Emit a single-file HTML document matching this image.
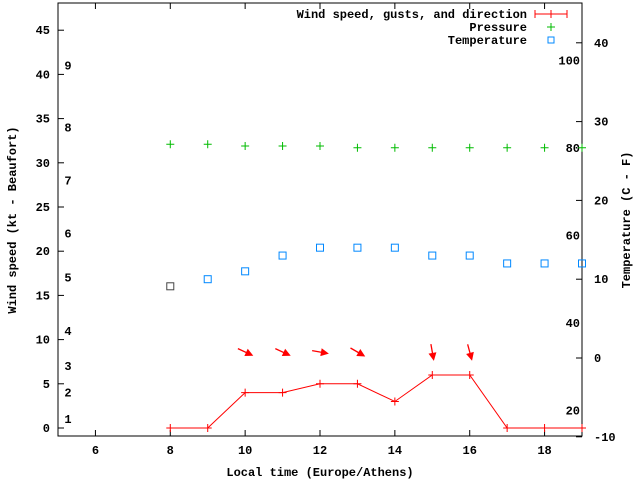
<!DOCTYPE html>
<html><head><meta charset="utf-8"><style>
body{margin:0;background:#fff}
svg{display:block}
text{font-family:"Liberation Mono","DejaVu Sans Mono",monospace;font-size:12px;fill:#000;font-weight:bold}
</style></head><body>
<svg id="c" width="640" height="480" viewBox="0 0 640 480" xmlns="http://www.w3.org/2000/svg"></svg>
<script>
const hours=[8,9,10,11,12,13,14,15,16,17,18,19];
const windKt=[0,0,4,4,5,5,3,6,6,0,0,0];
const pressure=[32.1,32.1,31.9,31.9,31.9,31.7,31.7,31.7,31.7,31.7,31.7,31.7];
const tempC=[9.1,10,11,13,14,14,14,13,13,12,12,12];
const arrowHours=[10,11,12,13,15,16];
const arrowDir=[295,295,280,300,350,345];
const xTicks=[6,8,10,12,14,16,18];
const yTicks=[0,5,10,15,20,25,30,35,40,45];
const y2Ticks=[-10,0,10,20,30,40];
const bfLabels=[1,2,3,4,5,6,7,8,9];
const bfPos=[1.0,4,7,11,17,22,28,34,41];
const fLabels=[20,40,60,80,100];
const L=58,R=582,T=3,B=436;
const X=v=>L+(v-5)/(19-5)*(R-L);
const Y=v=>428-v*8.84;
const Y2=v=>358-v*7.88;
const svg=document.getElementById('c');
const NS='http://www.w3.org/2000/svg';
function mk(t,a,p){const e=document.createElementNS(NS,t);for(const k in a)e.setAttribute(k,a[k]);(p||svg).appendChild(e);return e;}
function tx(s,x,y,anc,name){const e=mk('text',{x:x,y:y,'text-anchor':anc||'middle'});e.textContent=s;return e;}
const frame=mk('rect',{x:L,y:T,width:R-L,height:B-T,fill:'none',stroke:'#000'});


xTicks.forEach(v=>{const x=X(v);mk('line',{x1:x,y1:B,x2:x,y2:B-6,stroke:'#000'});mk('line',{x1:x,y1:T,x2:x,y2:T+6,stroke:'#000'});tx(String(v),x,B+18,'middle','x-tick-label');});
yTicks.forEach(v=>{const y=Y(v);mk('line',{x1:L,y1:y,x2:L+6,y2:y,stroke:'#000'});tx(String(v),L-8,y+4,'end','y-tick-label');});
y2Ticks.forEach(v=>{const y=Y2(v);mk('line',{x1:R,y1:y,x2:R-6,y2:y,stroke:'#000'});tx(String(v),R+12,y+4,'start','y2-tick-label');});
bfLabels.forEach((b,i)=>tx(String(b),68,Y(bfPos[i])+4,'middle','beaufort-label'));
fLabels.forEach(f=>tx(String(f),R-2,Y2((f-32)/1.8)+4,'end','fahrenheit-label'));
tx('Local time (Europe/Athens)',320,476,'middle','x-axis-title');
const yt=tx('Wind speed (kt - Beaufort)',0,0,'middle','y-axis-title');yt.setAttribute('transform','translate(16,220) rotate(-90)');
const y2t=tx('Temperature (C - F)',0,0,'middle','y2-axis-title');y2t.setAttribute('transform','translate(630,220) rotate(-90)');
// wind line
const wp=mk('polyline',{points:hours.map((h,i)=>X(h)+','+Y(windKt[i])).join(' '),fill:'none',stroke:'#f00'});


hours.forEach((h,i)=>{const x=X(h),y=Y(windKt[i]);const g=mk('path',{d:`M${x-4},${y}H${x+4}M${x},${y-4}V${y+4}`,stroke:'#f00'});});
pressure.forEach((p,i)=>{const x=X(hours[i]),y=Y(p);const g=mk('path',{d:`M${x-4},${y}H${x+4}M${x},${y-4}V${y+4}`,stroke:'#0b0'});});
tempC.forEach((t,i)=>{const x=X(hours[i]),y=Y2(t);const r=mk('rect',{x:x-3.5,y:y-3.5,width:7,height:7,fill:'none',stroke:i==0?'#444':'#08f'});});
arrowHours.forEach((h,i)=>{const a=(arrowDir[i]+180)*Math.PI/180;const dx=Math.sin(a),dy=-Math.cos(a);const cx=X(h),cy=352;
const x1=cx-dx*8,y1=cy-dy*8,x2=cx+dx*7,y2=cy+dy*7;
const g=mk('g',{});
mk('line',{x1:x1,y1:y1,x2:x2,y2:y2,stroke:'#f00','stroke-width':1.3},g);
const px=-dy,py=dx;
mk('polygon',{points:`${x2+dx*2},${y2+dy*2} ${x2-dx*6+px*4},${y2-dy*6+py*4} ${x2-dx*6-px*4},${y2-dy*6-py*4}`,fill:'#f00'},g);});
// legend
tx('Wind speed, gusts, and direction',527,18,'end','legend-wind-label');
mk('path',{d:'M535,14H567M535,10V18M567,10V18M551,10V18',stroke:'#f00'});
tx('Pressure',527,31,'end','legend-pressure-label');
mk('path',{d:'M547,27H555M551,23V31',stroke:'#0b0'});
tx('Temperature',527,44,'end','legend-temperature-label');
mk('rect',{x:548,y:37,width:6,height:6,fill:'none',stroke:'#08f'});
</script>
</body></html>
